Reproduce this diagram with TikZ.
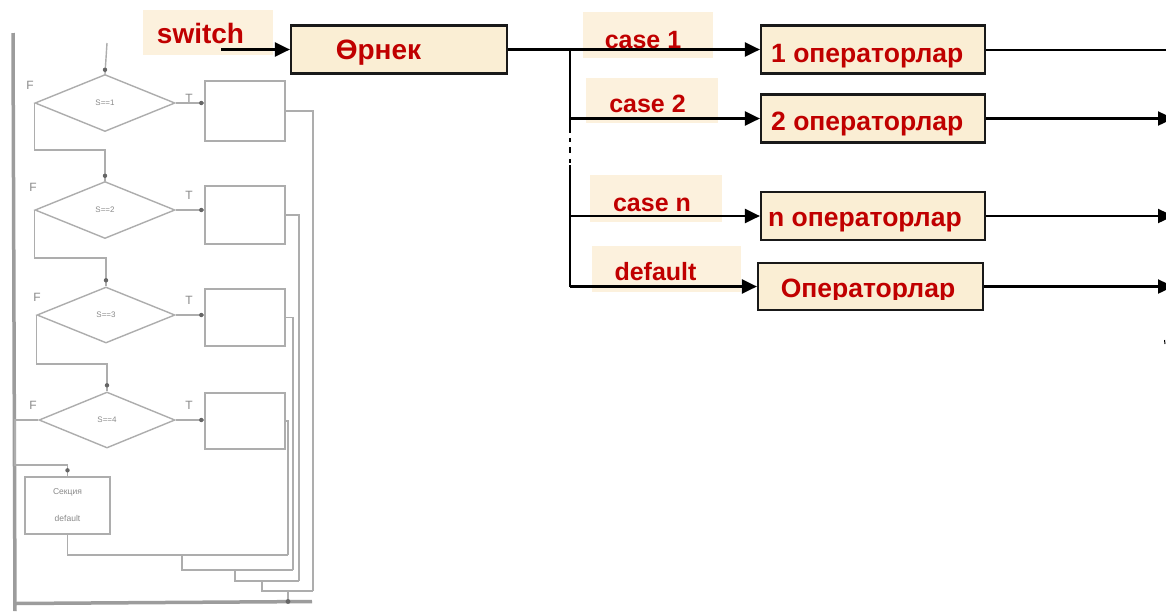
\documentclass[tikz,border=0pt]{standalone}
\usepackage{fontspec}
\setmainfont{Liberation Sans}
\usetikzlibrary{arrows.meta,shapes.geometric,calc}

\definecolor{redtxt}{HTML}{C00000}
\definecolor{cream}{HTML}{FAEED4}
\definecolor{labelbg}{HTML}{FCF1DD}
\definecolor{ghost}{HTML}{ADADAD}
\definecolor{ghosttxt}{HTML}{8A8A8A}
\definecolor{barc}{HTML}{9C9C9C}

\tikzset{
  opbox/.style={draw=black!90, line width=2.2pt, fill=cream, minimum width=224pt, minimum height=48pt, inner sep=0pt},
  tagbg/.style={fill=labelbg, inner sep=0pt},
  redlbl/.style={text=redtxt, font=\fontsize{25}{25}\selectfont\bfseries, inner sep=0pt, anchor=base},
  biglbl/.style={redlbl, font=\fontsize{28}{28}\selectfont\bfseries},
  oplbl/.style={text=redtxt, font=\fontsize{26.5}{26.5}\selectfont\bfseries, inner sep=0pt, anchor=base west},
  flow/.style={line width=2.4pt, -{Triangle[length=15pt,width=14pt]}},
  plainline/.style={line width=2pt},
  trunk/.style={line width=1.6pt},
  fc/.style={draw=ghost, line width=1.4pt},
  fcline/.style={draw=ghost, line width=1.4pt},
  barline/.style={draw=barc, line width=3.5pt},
  fcdot/.style={fill=black!60},
  fctxt/.style={text=ghosttxt, inner sep=0pt, font=\fontsize{12}{12}\selectfont},
  dmd/.style={fc, diamond, inner sep=0pt, minimum width=140pt, minimum height=57pt, text=ghosttxt, font=\fontsize{8}{8}\selectfont},
  fbox/.style={fc, rectangle, inner sep=0pt, minimum width=80pt, minimum height=58pt},
}

\begin{document}
\begin{tikzpicture}[x=1pt,y=-1pt]
\useasboundingbox (0,0) rectangle (1166,611);
\clip (0,0) rectangle (1166,611);
\fill[white] (0,0) rectangle (1166,611);

% ===== switch flowchart (left) =====
\coordinate (bar0) at (13,33);
\coordinate (bar1) at (15,611);
\coordinate (bl0) at (15,603.5);
\coordinate (bl1) at (312,601.5);
\draw[barline] (bar0) -- (bar1);
\draw[barline] (bl0) -- (bl1);

\coordinate (in0) at (107,43);
\node[dmd] (d1) at (105,103) {S==1};
\node[dmd] (d2) at (105,210) {S==2};
\node[dmd, minimum width=138pt, minimum height=56pt] (d3) at (106,315) {S==3};
\node[dmd, minimum width=136pt, minimum height=56pt] (d4) at (107,420) {S==4};
\node[fbox, minimum height=60pt] (b1) at (245,111) {};
\node[fbox] (b2) at (245,215) {};
\node[fbox, minimum height=57pt] (b3) at (245,317.5) {};
\node[fbox, minimum height=56pt] (b4) at (245,421) {};
\node[fbox, minimum width=85pt, minimum height=57pt, align=center,
      font=\fontsize{8.5}{27}\selectfont, text=ghosttxt] (bd) at (67.5,505.5) {Секция\\default};

\node[fctxt] (f1) at (30,85) {F};
\node[fctxt] (f2) at (33,187) {F};
\node[fctxt] (f3) at (37,297) {F};
\node[fctxt] (f4) at (33,405) {F};
\node[fctxt] (t1) at (189,98) {T};
\node[fctxt] (t2) at (189,195) {T};
\node[fctxt] (t3) at (189,300) {T};
\node[fctxt] (t4) at (189,405) {T};

% entry and false branches
\draw[fcline] (in0) -- (d1.north);
\fill[fcdot] ($(d1.north)+(0,-4)$) circle (2.2pt);
\coordinate (k1) at (60,150);
\coordinate (k2) at (60,258);
\coordinate (k3) at (60,364);
\coordinate (k4) at (15,465);
\draw[fcline] (d1.west) |- (k1) -| (d2.north);
\draw[fcline] (d2.west) |- (k2) -| (d3.north);
\draw[fcline] (d3.west) |- (k3) -| (d4.north);
\draw[fcline] (d4.west) -| (k4) -| (bd.north);
\fill[fcdot] ($(d2.north)+(0,-5)$) circle (2.2pt);
\fill[fcdot] ($(d3.north)+(0,-6)$) circle (2.2pt);
\fill[fcdot] ($(d4.north)+(0,-6)$) circle (2.2pt);
\fill[fcdot] ($(bd.north)+(0,-6)$) circle (2.2pt);

% true branches
\foreach \d/\b in {d1/b1,d2/b2,d3/b3,d4/b4}{
  \draw[fcline] (\d.east) -- (\d.east -| \b.west);
  \fill[fcdot] ($(\d.east -| \b.west)+(-3,0)$) circle (2.2pt);
}

% joining the exits
\coordinate (m4) at (288,555);
\coordinate (j4) at (182,555);
\coordinate (m3) at (293,570);
\coordinate (j3) at (235,570);
\coordinate (m2) at (299,581);
\coordinate (j2) at (262,581);
\coordinate (m1) at (313,591);
\coordinate (j1) at (288,591);
\draw[fcline] (b4.east) -| (m4);
\draw[fcline] (bd.south) |- (m4);
\draw[fcline] (b3.east) -| (m3);
\draw[fcline] (j4) |- (m3);
\draw[fcline] (b2.east) -| (m2);
\draw[fcline] (j3) |- (m2);
\draw[fcline] (b1.east) -| (m1);
\draw[fcline] (j2) |- (m1);
\draw[fcline] (j1) -- (j1 |- bl1);
\fill[fcdot] (j1 |- bl1) circle (2.4pt);

% ===== switch scheme (right) =====
\node[tagbg, minimum width=130pt, minimum height=45pt] (swbg) at (208,32.5) {};
\node[tagbg, minimum width=130pt, minimum height=46pt] (c1bg) at (648,35) {};
\node[tagbg, minimum width=132pt, minimum height=45pt] (c2bg) at (652,100.5) {};
\node[tagbg, minimum width=132pt, minimum height=47pt] (cnbg) at (656,198.5) {};
\node[tagbg, minimum width=149pt, minimum height=46pt] (dfbg) at (666.5,269) {};

\node[opbox, minimum width=216pt] (orn) at (399,49.5) {};
\node[opbox] (op1) at (873,49.5) {};
\node[opbox] (op2) at (873,118.5) {};
\node[opbox] (opn) at (873,216) {};
\node[opbox, minimum width=225pt, minimum height=47pt] (opd) at (870.5,286.5) {};

% arrows into the boxes
\coordinate (swin) at (221,49.5);
\draw[flow] (swin) -- (swin -| orn.west);
\draw[flow] (orn.east) -- (op1.west);

\coordinate (tr0) at (570,49.5);
\coordinate (ta) at (570,138);
\coordinate (tb) at (570,165);
\draw[trunk] (tr0) -- ($(ta)+(0,-5)$);
\draw[trunk, dash pattern=on 4pt off 5pt on 6pt off 6pt on 4pt off 2pt] (ta) -- (tb);
\draw[trunk] (tb) -- (tr0 |- opd.west);
\draw[flow] (tr0 |- op2.west) -- (op2.west);
\draw[flow] (tr0 |- opn.west) -- (opn.west);
\draw[flow] (tr0 |- opd.west) -- (opd.west);

% lines leaving the boxes
\coordinate (rx) at (1173,0);
\draw[plainline] (op1.east) -- (op1.east -| rx);
\draw[flow] (op2.east) -- (op2.east -| rx);
\draw[flow] (opn.east) -- (opn.east -| rx);
\draw[flow] (opd.east) -- (opd.east -| rx);
\coordinate (tk0) at (1164.5,340);
\coordinate (tk1) at (1165,344);
\draw[line width=1pt] (tk0) -- (tk1);

% texts
\node[biglbl] (swtxt) at (200.5,43) {switch};
\node[biglbl] (orntxt) at (378.5,59) {Өрнек};
\node[redlbl] (c1txt) at (643,48) {case 1};
\node[redlbl] (c2txt) at (647.5,112) {case 2};
\node[redlbl] (cntxt) at (652,211) {case n};
\node[redlbl] (dftxt) at (655.5,280) {default};
\node[oplbl] (op1txt) at (771,62) {1 операторлар};
\node[oplbl] (op2txt) at (771,130) {2 операторлар};
\node[oplbl] (opntxt) at (768,226) {n операторлар};
\begin{scope}
  \clip (opd.north west) rectangle ($(opd.east)+(113,13)$);
  \node[oplbl, anchor=base] (opdtxt) at (868,297) {Операторлар};
\end{scope}
\end{tikzpicture}
\end{document}
